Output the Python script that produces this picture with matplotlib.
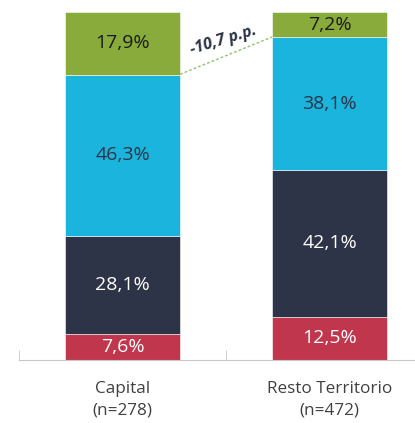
import matplotlib.pyplot as plt
import numpy as np

# datos
categorias = ['Capital\n(n=278)', 'Resto Territorio\n(n=472)']
rojo = [7.6, 12.5]
azul_oscuro = [28.1, 42.1]
celeste = [46.3, 38.1]
verde = [17.9, 7.2]
diferencia = '-10,7 p.p.'

series = [rojo, azul_oscuro, celeste, verde]
colores = ['#c0364c', '#2d3447', '#1ab4dc', '#89ab3c']
colores_txt = ['white', 'white', '#2d3447', '#1a1a1a']

plt.rcParams['font.family'] = ['Open Sans', 'DejaVu Sans']

fig = plt.figure(figsize=(4.15, 4.23), dpi=100)
ax = fig.add_axes([19 / 415, 63 / 423, 414 / 415, 348 / 423])

x = np.arange(len(categorias))
ancho = 0.556
base = np.zeros(len(categorias))
for vals, col, ct in zip(series, colores, colores_txt):
    vals = np.array(vals)
    ax.bar(x, vals, ancho, bottom=base, color=col, edgecolor='white', linewidth=0.4)
    for xi, b, v in zip(x, base, vals):
        ax.text(xi, b + v / 2, f'{v:.1f}%'.replace('.', ','), ha='center', va='center',
                fontsize=14, color=ct)
    base = base + vals

# linea de diferencia entre la base del segmento verde
y0 = 100 - verde[0]
y1 = 100 - verde[1]
ax.plot([x[0] + ancho / 2, x[1] - ancho / 2], [y0, y1], linestyle=(0, (2, 1.5)),
        color='#8cc56a', linewidth=1)
ax.text(0.49, 91.8, diferencia, ha='center', va='center', rotation=17,
        fontsize=11.5, fontweight='bold', fontstyle='italic', color='#2d3447')

ax.set_xlim(-0.5, 1.5)
ax.set_ylim(0, 100)
ax.set_xticks(x)
ax.set_xticklabels(categorias, fontsize=12.3, color='#404040', linespacing=1.45)
ax.tick_params(axis='x', which='major', length=0, pad=15)
ax.set_xticks([-0.5, 0.5, 1.5], minor=True)
ax.tick_params(axis='x', which='minor', length=7, direction='in', color='#c8c8c8')
ax.set_yticks([])
for s in ['top', 'right', 'left']:
    ax.spines[s].set_visible(False)
ax.spines['bottom'].set_color('#c8c8c8')

fig.savefig('out.png', dpi=100)
